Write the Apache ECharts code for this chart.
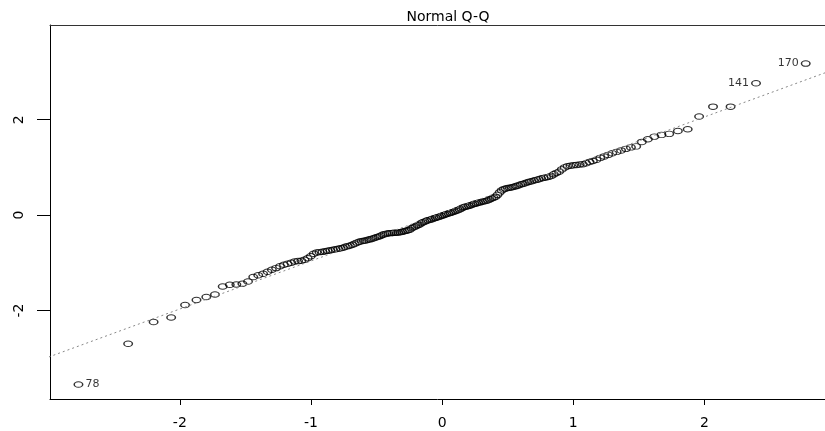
<!DOCTYPE html>
<html>
<head>
<meta charset="utf-8">
<script src="https://cdn.jsdelivr.net/npm/echarts@6/dist/echarts.min.js"></script>
<style>
  html, body { margin: 0; padding: 0; background: #fff; }
  #chart { width: 825px; height: 431px; }
</style>
</head>
<body>
<div id="chart"></div>
<script>
// theoretical normal quantiles (x) and sorted sample quantiles (y), 180 points
const theoretical = [
  -2.773, -2.394, -2.200, -2.066, -1.960, -1.873, -1.798, -1.732, -1.673, -1.619,
  -1.569, -1.523, -1.480, -1.440, -1.402, -1.365, -1.331, -1.298, -1.266, -1.236,
  -1.206, -1.178, -1.150, -1.124, -1.098, -1.073, -1.049, -1.025, -1.002, -0.979,
  -0.956, -0.935, -0.913, -0.892, -0.872, -0.852, -0.832, -0.812, -0.793, -0.774,
  -0.755, -0.737, -0.719, -0.701, -0.683, -0.666, -0.649, -0.632, -0.615, -0.598,
  -0.581, -0.565, -0.549, -0.533, -0.517, -0.501, -0.485, -0.470, -0.454, -0.439,
  -0.423, -0.408, -0.393, -0.378, -0.363, -0.349, -0.334, -0.319, -0.305, -0.290,
  -0.276, -0.261, -0.247, -0.233, -0.218, -0.204, -0.189, -0.175, -0.161, -0.147,
  -0.133, -0.119, -0.105, -0.091, -0.077, -0.063, -0.049, -0.035, -0.021, -0.007,
  0.007, 0.021, 0.035, 0.049, 0.063, 0.077, 0.091, 0.105, 0.119, 0.133,
  0.147, 0.161, 0.175, 0.189, 0.204, 0.218, 0.233, 0.247, 0.261, 0.276,
  0.290, 0.305, 0.319, 0.334, 0.349, 0.363, 0.378, 0.393, 0.408, 0.423,
  0.439, 0.454, 0.470, 0.485, 0.501, 0.517, 0.533, 0.549, 0.565, 0.581,
  0.598, 0.615, 0.632, 0.649, 0.666, 0.683, 0.701, 0.719, 0.737, 0.755,
  0.774, 0.793, 0.812, 0.832, 0.852, 0.872, 0.892, 0.913, 0.935, 0.956,
  0.979, 1.002, 1.025, 1.049, 1.073, 1.098, 1.124, 1.150, 1.178, 1.206,
  1.236, 1.266, 1.298, 1.331, 1.365, 1.402, 1.440, 1.480, 1.523, 1.569,
  1.619, 1.673, 1.732, 1.798, 1.873, 1.960, 2.066, 2.200, 2.394, 2.773
];
const sample = [
  -3.55, -2.695, -2.241, -2.145, -1.883, -1.778, -1.717, -1.663, -1.495, -1.46,
  -1.453, -1.439, -1.39, -1.298, -1.26, -1.229, -1.187, -1.146, -1.11, -1.072,
  -1.041, -1.02, -0.999, -0.972, -0.963, -0.957, -0.936, -0.905, -0.863, -0.81,
  -0.783, -0.775, -0.769, -0.758, -0.748, -0.737, -0.727, -0.716, -0.706, -0.695,
  -0.685, -0.664, -0.649, -0.637, -0.622, -0.597, -0.576, -0.559, -0.545, -0.538,
  -0.532, -0.517, -0.507, -0.492, -0.48, -0.465, -0.45, -0.434, -0.413, -0.398,
  -0.387, -0.381, -0.377, -0.373, -0.371, -0.366, -0.364, -0.36, -0.35, -0.339,
  -0.329, -0.318, -0.304, -0.276, -0.255, -0.235, -0.214, -0.199, -0.172, -0.151,
  -0.136, -0.119, -0.105, -0.094, -0.084, -0.067, -0.057, -0.042, -0.031, -0.019,
  -0.004, 0.01, 0.023, 0.036, 0.048, 0.061, 0.073, 0.09, 0.105, 0.121,
  0.142, 0.163, 0.174, 0.184, 0.195, 0.209, 0.222, 0.237, 0.247, 0.258,
  0.268, 0.279, 0.289, 0.299, 0.314, 0.331, 0.348, 0.366, 0.387, 0.425,
  0.477, 0.519, 0.545, 0.557, 0.568, 0.576, 0.586, 0.597, 0.609, 0.624,
  0.641, 0.655, 0.67, 0.687, 0.702, 0.712, 0.725, 0.739, 0.754, 0.769,
  0.781, 0.792, 0.802, 0.823, 0.855, 0.886, 0.911, 0.959, 1.001, 1.026,
  1.037, 1.047, 1.053, 1.062, 1.068, 1.089, 1.116, 1.137, 1.162, 1.2,
  1.231, 1.263, 1.298, 1.326, 1.357, 1.389, 1.42, 1.441, 1.535, 1.592,
  1.646, 1.682, 1.703, 1.765, 1.801, 2.069, 2.274, 2.274, 2.764, 3.176
];
// reference line (qqline) end points
const lineX = [-3, 3];
const lineY = [-2.973, 3.063];
// labelled points: index into the sorted data, and the observation number
const labelIndex = [0, 178, 179];
const labelText = ['78', '141', '170'];
const labelSide = ['right', 'left', 'left'];
const xTicks = [-2, -1, 0, 1, 2];
const yTicks = [-2, 0, 2];

const FONT = 'DejaVu Sans';

const points = theoretical.map((x, i) => {
  const k = labelIndex.indexOf(i);
  if (k < 0) return [x, sample[i]];
  return {
    value: [x, sample[i]],
    label: {
      show: true,
      formatter: labelText[k],
      position: labelSide[k],
      distance: 2,
      fontSize: 11,
      fontFamily: FONT,
      color: '#000'
    }
  };
});

const chart = echarts.init(document.getElementById('chart'));

chart.setOption({
  animation: false,
  backgroundColor: '#fff',
  title: {
    text: 'Normal Q-Q',
    left: 443,
    top: 5,
    textAlign: 'center',
    textStyle: {fontFamily: FONT, fontSize: 14, fontWeight: 'normal', color: '#000'}
  },
  grid: {left: 50, top: 25, right: 0, bottom: 32},
  xAxis: [{
    type: 'value',
    position: 'bottom',
    min: -2.99,
    max: 2.92,
    axisLine: {show: true, onZero: false, lineStyle: {color: '#000', width: 1}},
    axisTick: {show: true, length: 6, customValues: xTicks, lineStyle: {color: '#000'}},
    axisLabel: {customValues: xTicks, margin: 17, fontSize: 14, fontFamily: FONT, color: '#000'},
    splitLine: {show: false}
  }, {
    type: 'value',
    position: 'top',
    min: -2.99,
    max: 2.92,
    axisLine: {show: true, onZero: false, lineStyle: {color: '#333', width: 1}},
    axisTick: {show: false},
    axisLabel: {show: false},
    splitLine: {show: false}
  }],
  yAxis: {
    type: 'value',
    min: -3.853,
    max: 3.985,
    axisLine: {show: true, onZero: false, lineStyle: {color: '#000', width: 1}},
    axisTick: {show: true, length: 13, customValues: yTicks, lineStyle: {color: '#000'}},
    axisLabel: {customValues: yTicks, rotate: 90, margin: 24, fontSize: 14, fontFamily: FONT, color: '#000'},
    splitLine: {show: false}
  },
  series: [{
    type: 'line',
    silent: true,
    symbol: 'none',
    clip: true,
    data: lineX.map((x, i) => [x, lineY[i]]),
    lineStyle: {color: '#888', width: 1, type: [2, 3]}
  }, {
    type: 'scatter',
    symbol: 'circle',
    symbolSize: [8.5, 5.5],
    data: points,
    itemStyle: {color: 'rgba(0,0,0,0)', borderColor: '#000', borderWidth: 1.2}
  }]
});
</script>
</body>
</html>
